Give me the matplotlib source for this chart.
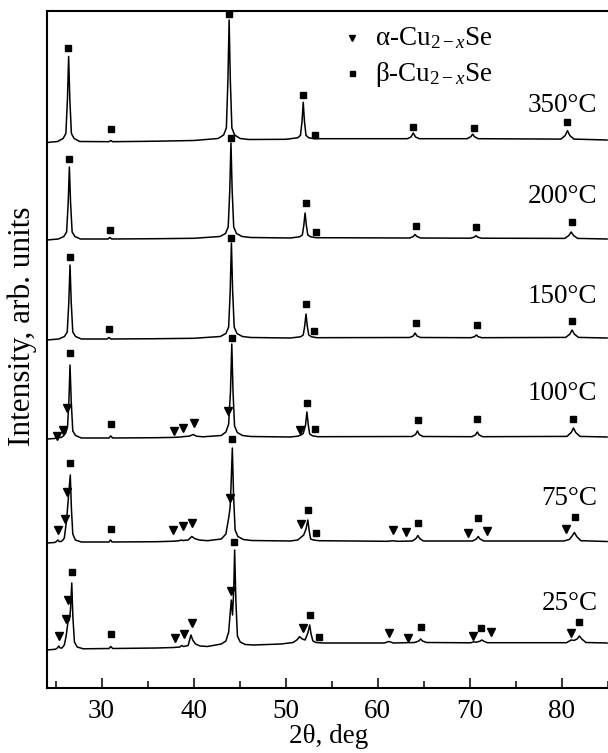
import matplotlib
matplotlib.use("Agg")
import matplotlib.pyplot as plt
import numpy as np

plt.rcParams['font.family'] = ['Liberation Serif', 'DejaVu Serif']
plt.rcParams['mathtext.fontset'] = 'custom'
plt.rcParams['mathtext.rm'] = 'Liberation Serif'
plt.rcParams['mathtext.it'] = 'Liberation Serif:italic'

# ---------------- data (2theta in deg, intensity in arb. units) ----------------
labels = ['350°C', '200°C', '150°C', '100°C', '75°C', '25°C']
offsets = [545.5, 448, 348, 249, 145, 38]

x_350 = [24.07, 25.22, 25.82, 26.12, 26.29, 26.42, 26.55, 26.72, 27.02, 27.62,
         30.8, 31.0, 31.2, 36, 40,
         42.65, 43.25, 43.55, 43.72, 43.85, 43.98, 44.15, 44.45, 45.05, 46.0,
         50, 51.3, 51.6, 51.77, 51.9, 52.03, 52.2, 52.5, 53.1,
         63.2, 63.6, 63.85, 64.1, 64.5,
         69.7, 70.1, 70.3, 70.5, 70.9,
         79.9, 80.35, 80.6, 80.85, 81.3, 84.9]
y_350 = [0, 1, 4, 9, 43, 86, 43, 9, 4, 1,
         0.8, 2, 0.8, 1.3, 2,
         4, 7.5, 14.5, 62.5, 122.5, 62.5, 14.5, 7.5, 4, 3,
         3.2, 4.7, 7.2, 21.2, 40.2, 21.2, 7.2, 4.7, 3.8,
         3.8, 5.5, 9.5, 5.5, 3.8,
         3.8, 5.8, 8.3, 5.8, 3.8,
         3.4, 7, 11.8, 7, 3.4, 2.5]

x_200 = [24.07, 25.3, 25.9, 26.2, 26.37, 26.5, 26.63, 26.8, 27.1, 27.7,
         30.7, 30.9, 31.1, 36, 40,
         42.85, 43.45, 43.75, 43.92, 44.05, 44.18, 44.35, 44.65, 45.25, 46.2,
         50.5, 51.5, 51.8, 51.96, 52.1, 52.24, 52.4, 52.7, 53.3,
         63.45, 63.85, 64.05, 64.25, 64.65,
         70.05, 70.45, 70.65, 70.85, 71.25,
         80.3, 80.75, 81.0, 81.25, 81.7, 84.9]
y_200 = [0, 1, 3.5, 8, 37, 73, 37, 8, 3.5, 1,
         1, 2.5, 1, 1.3, 1.7,
         3.5, 6.5, 13, 49.5, 97, 49.5, 13, 6.5, 3.5, 2.5,
         2, 3.2, 5, 14.5, 27, 14.5, 5, 3.2, 2.3,
         2, 3.5, 5.5, 3.5, 2,
         1.8, 2.8, 4.3, 2.8, 1.8,
         1.6, 4.5, 8, 4.5, 1.6, 1]

x_150 = [24.07, 25.35, 25.97, 26.27, 26.44, 26.57, 26.7, 26.87, 27.17, 27.8,
         30.6, 30.8, 31.0, 36, 40,
         42.9, 43.5, 43.8, 43.97, 44.1, 44.23, 44.4, 44.7, 45.3, 46.2,
         50.5, 51.6, 51.9, 52.06, 52.2, 52.34, 52.5, 52.8, 53.4,
         63.45, 63.85, 64.05, 64.25, 64.65,
         70.1, 70.5, 70.7, 70.9, 71.3,
         80.4, 80.85, 81.1, 81.35, 81.8, 84.9]
y_150 = [0, 1, 3.5, 8, 38, 75, 38, 8, 3.5, 1,
         1, 2.5, 1, 1.3, 1.7,
         3.5, 6.5, 13, 49.5, 97, 49.5, 13, 6.5, 3.5, 2.5,
         2, 3.2, 5, 14, 26, 14, 5, 3.2, 2.3,
         2.5, 4, 7, 4, 2.5,
         2.3, 3.3, 5, 3.3, 2.3,
         2.6, 5.8, 10, 5.8, 2.6, 2]

x_100 = [24.07, 24.9, 25.1, 25.24, 25.4, 25.6, 25.85, 26.1, 26.3, 26.45, 26.57, 26.7, 26.87, 27.17, 27.8,
         30.8, 31.0, 31.2,
         36, 37.8, 38.6, 38.9, 39.5, 39.95, 40.3, 41,
         43.0, 43.5, 43.8, 44.0, 44.14, 44.27, 44.44, 44.74, 45.3, 46.2,
         50.5, 51.3, 51.6, 51.9, 52.15, 52.3, 52.45, 52.6, 52.9, 53.5,
         63.7, 64.1, 64.3, 64.5, 64.9,
         70.2, 70.6, 70.8, 71.0, 71.4,
         80.55, 81.0, 81.25, 81.5, 81.95, 84.9]
y_100 = [0, 0.5, 1.5, 3, 1.5, 1.5, 3, 6, 12, 38, 74, 38, 8, 3.5, 1,
         1, 3, 1,
         1.3, 1.6, 2, 2.4, 2.8, 4.5, 2.8, 2.2,
         3.5, 7, 15, 48, 95, 48, 13, 6.5, 3.5, 2.5,
         2, 2.8, 3.8, 5.5, 14, 27, 14, 5, 3.2, 2.3,
         2.5, 4.5, 8, 4.5, 2.5,
         2.3, 4, 7, 4, 2.3,
         2.6, 6.5, 11, 6.5, 2.6, 2]

x_75 = [24.07, 24.9, 25.1, 25.24, 25.4, 25.6, 25.8, 25.95, 26.2, 26.4, 26.6, 26.72, 26.87, 27.15, 27.8,
        30.8, 30.97, 31.15,
        36, 37.8, 38.4, 38.6, 38.8, 39.4, 39.8, 40.1, 40.6, 41.5,
        43.0, 43.5, 43.8, 43.95, 44.05, 44.2, 44.33, 44.5, 44.8, 45.4, 46.3,
        50.5, 51.3, 51.7, 51.95, 52.2, 52.4, 52.55, 52.7, 53.0, 53.6,
        61.0, 61.6, 62.2,
        63.75, 64.15, 64.35, 64.55, 64.95,
        70.3, 70.7, 70.9, 71.1, 71.5,
        80.2, 80.5, 80.8, 81.1, 81.35, 81.6, 82.05, 84.9]
y_75 = [0, 0.5, 1.5, 3, 1.5, 1.5, 3, 5, 23, 46, 68, 35, 9, 3, 1,
        1, 3, 1,
        1.3, 1.8, 2.2, 3, 2.5, 3, 6.5, 4.5, 3, 2.3,
        4, 9, 25, 35, 55, 95, 48, 13, 6.5, 3.5, 2.5,
        2, 3, 6, 8, 14, 23, 12, 4, 3, 2.3,
        1.7, 2.2, 1.7,
        2, 4.5, 7.5, 4.5, 2,
        2, 4, 6.5, 4, 2,
        2, 2.8, 3.5, 7, 10.5, 6.5, 2.3, 1.5]

x_25 = [24.07, 25.0, 25.2, 25.35, 25.5, 25.7, 25.95, 26.15, 26.35, 26.5, 26.62, 26.76, 26.88, 27.05, 27.35, 28.0,
        30.8, 31.0, 31.2,
        36, 37.8, 38.5, 38.7, 38.9, 39.4, 39.7, 39.9, 40.2, 40.7, 41.5,
        43.0, 43.5, 43.8, 43.95, 44.09, 44.22, 44.35, 44.45, 44.58, 44.75, 45.05, 45.6, 46.5,
        49.5, 50.8, 51.2, 51.5, 51.8, 52.1, 52.4, 52.6, 52.75, 52.95, 53.3, 54,
        60.7, 61.2, 61.7,
        64.0, 64.45, 64.65, 64.85, 65.3,
        70.1, 70.4, 70.7, 71.1, 71.3, 71.5, 71.9,
        80.5, 81.0, 81.3, 81.65, 81.9, 82.15, 82.6, 84.9]
y_25 = [0, 0.8, 2, 4, 2, 2, 5, 14, 28, 30, 40, 67, 33, 8, 3, 1.2,
        1.5, 3.5, 1.5,
        2, 2.5, 3, 4.5, 3.5, 4.5, 15, 10, 6, 4, 3.5,
        6, 9, 18, 35, 50, 35, 60, 100, 50, 14, 8, 5.5, 5,
        6, 7.5, 10, 13.3, 11, 10, 17, 25, 16, 9, 7.5, 7,
        7, 8.5, 7,
        7.5, 9, 11, 9, 7.5,
        7.2, 8.2, 7.8, 8.8, 10, 8.8, 7.3,
        7.3, 10, 9.5, 11, 14, 11, 7.5, 7]

curves_x = [x_350, x_200, x_150, x_100, x_75, x_25]
curves_y = [y_350, y_200, y_150, y_100, y_75, y_25]

# beta-Cu2-xSe reflections (squares), heights relative to pattern offset
sq_x_350 = [26.4, 31.0, 43.8, 51.9, 53.2, 63.87, 70.4, 80.55]
sq_y_350 = [94.8, 13.2, 128.2, 47.5, 7.5, 15.2, 14.2, 20.8]
sq_x_200 = [26.5, 30.9, 44.0, 52.15, 53.25, 64.1, 70.65, 81.06]
sq_y_200 = [81, 10, 102.3, 36.7, 7.7, 14.3, 12.7, 17.7]
sq_x_150 = [26.57, 30.8, 44.1, 52.25, 53.06, 64.16, 70.8, 81.09]
sq_y_150 = [83.3, 11, 102, 36, 9.3, 17.3, 15, 19]
sq_x_100 = [26.57, 31.0, 44.14, 52.3, 53.2, 64.35, 70.8, 81.25]
sq_y_100 = [86.3, 15, 101, 35.7, 10, 19, 19.7, 19.7]
sq_x_75 = [26.6, 30.97, 44.2, 52.4, 53.25, 64.35, 70.9, 81.4]
sq_y_75 = [79.7, 14, 104, 33, 9.7, 20.3, 24.7, 25.7]
sq_x_25 = [26.76, 31.0, 44.4, 52.6, 53.6, 64.7, 71.25, 81.9]
sq_y_25 = [77.7, 16, 108.3, 35, 13.3, 23.3, 21.7, 27.7]

# alpha-Cu2-xSe reflections (triangles)
tri_x_100 = [25.2, 25.85, 26.2, 37.85, 38.8, 40.0, 43.7, 51.6]
tri_y_100 = [3.3, 9, 30.7, 8, 10.7, 15.7, 28.3, 9]
tri_x_75 = [25.24, 26.03, 26.25, 37.8, 38.8, 39.85, 43.9, 51.7, 61.6, 63.1, 69.8, 71.9, 80.45]
tri_y_75 = [13, 24, 51.3, 13, 17, 19.7, 44.7, 18.7, 13, 11.3, 10.3, 12, 13.7]
tri_x_25 = [25.35, 26.14, 26.4, 38.0, 38.9, 39.85, 44.0, 51.9, 61.2, 63.3, 70.3, 72.33, 81.0]
tri_y_25 = [14.3, 30.7, 50, 11.7, 16, 26.7, 59, 21.7, 16.7, 12.3, 14.3, 18.3, 16.7]

sq_x = [sq_x_350, sq_x_200, sq_x_150, sq_x_100, sq_x_75, sq_x_25]
sq_y = [sq_y_350, sq_y_200, sq_y_150, sq_y_100, sq_y_75, sq_y_25]
tri_x = [[], [], [], tri_x_100, tri_x_75, tri_x_25]
tri_y = [[], [], [], tri_y_100, tri_y_75, tri_y_25]

# label baselines (same units)
label_y = [576.3, 484.7, 385.3, 288, 183, 78]

xticks = [30, 40, 50, 60, 70, 80]

# ---------------- figure ----------------
FS = 19.5
W, H = 608, 753
fig = plt.figure(figsize=(W / 100, H / 100), dpi=100)
ax_l, ax_r, ax_t, ax_b = 47, 608, 11, 688
ax = fig.add_axes([ax_l / W, (H - ax_b) / H, (ax_r - ax_l) / W, (ax_b - ax_t) / H])

for cx, cy, off in zip(curves_x, curves_y, offsets):
    ax.plot(cx, np.array(cy) + off, color='black', lw=1.1)

for sx, sy, tx, ty, off in zip(sq_x, sq_y, tri_x, tri_y, offsets):
    ax.plot(sx, np.array(sy) + off, linestyle='none', marker='s', ms=4.8,
            color='black', clip_on=False)
    if tx:
        ax.plot(tx, np.array(ty) + off, linestyle='none', marker='v', ms=5.8,
                color='black')

for lab, ly in zip(labels, label_y):
    ax.text(83.85, ly, lab, ha='right', va='baseline', fontsize=FS)

ax.set_xlim(24.07, 84.9)
ax.set_ylim(0, ax_b - ax_t)
ax.set_xticks(xticks)
ax.set_xticks([25, 35, 45, 55, 65, 75, 85], minor=True)
ax.set_yticks([])
ax.tick_params(axis='x', which='major', direction='in', length=7, width=1.1,
               labelsize=FS, pad=8)
ax.tick_params(axis='x', which='minor', direction='in', length=5, width=1.1)
for s in ['left', 'top', 'bottom']:
    ax.spines[s].set_linewidth(1.5)
ax.spines['right'].set_visible(False)

# legend (manual)
def px2ax(xp, yp):
    return (xp - ax_l) / (ax_r - ax_l), (ax_b - yp) / (ax_b - ax_t)

lx, ly1 = px2ax(352, 37.5)
_, ly2 = px2ax(352, 73)
ax.plot([lx], [ly1], marker='v', ms=4.3, color='black', transform=ax.transAxes,
        linestyle='none', clip_on=False)
ax.plot([lx], [ly2], marker='s', ms=3.6, color='black', transform=ax.transAxes,
        linestyle='none', clip_on=False)
tx0, tb1 = px2ax(375, 45.5)
_, tb2 = px2ax(375, 81)
ax.text(tx0, tb1, 'α-Cu$_{2-x}$Se', transform=ax.transAxes, va='baseline',
        ha='left', fontsize=FS)
ax.text(tx0, tb2, 'β-Cu$_{2-x}$Se', transform=ax.transAxes, va='baseline',
        ha='left', fontsize=FS)

fig.text(329 / W, 1 - 743 / H, '2θ, deg', ha='center', va='baseline', fontsize=FS)
fig.text(22 / W, 1 - 326 / H, 'Intensity, arb. units', ha='center', va='center',
         rotation=90, fontsize=22.5)

fig.savefig('out.png', dpi=100)
